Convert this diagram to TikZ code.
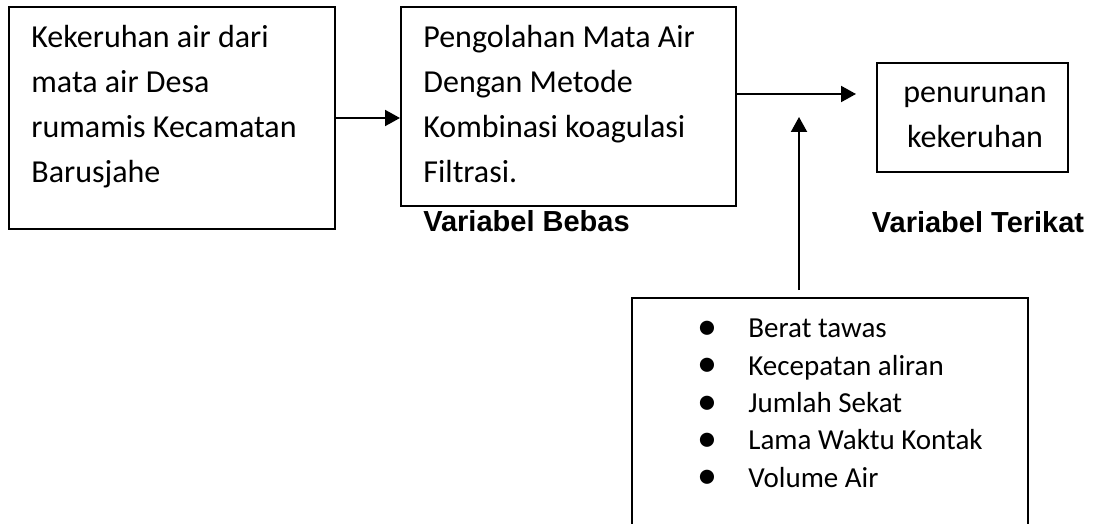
\documentclass[tikz,border=0pt]{standalone}
\usepackage{fontspec}
\setmainfont{Carlito}
\newfontfamily\judulfont{Liberation Sans}
\usepackage{tikz}
\usetikzlibrary{positioning, arrows.meta, calc}

\newcommand{\butir}{\makebox[20pt][c]{\fontsize{20}{20}\selectfont\raisebox{-0.8pt}{\textbullet}}\hspace{10.5pt}}

\begin{document}
\begin{tikzpicture}[x=0.5pt, y=-0.5pt,
    kotak/.style={draw, line width=1pt, inner sep=0pt},
    isi/.style={font=\fontsize{16}{22.5}\selectfont, align=left, inner sep=0pt},
    daftar/.style={font=\fontsize{14.5}{18.65}\selectfont, align=left, inner sep=0pt},
    judul/.style={font=\judulfont\bfseries\fontsize{14.5}{17}\selectfont, inner sep=0pt},
    panah/.style={-{Triangle[length=7.5pt, width=8pt]}, line width=1pt}]
      \useasboundingbox (0, 0) rectangle (1097, 524);

      \node[kotak, minimum width=163pt, minimum height=111pt] (k1) at (172, 118) {};
      \node[isi, anchor=base west] (t1) at (31, 183)
        {Kekeruhan air dari\\mata air Desa\\rumamis Kecamatan\\Barusjahe};

      \node[kotak, minimum width=167.5pt, minimum height=99.5pt] (k2) at (568.5, 106.5) {};
      \node[isi, anchor=base west] (t2) at (423, 183)
        {Pengolahan Mata Air\\Dengan Metode\\Kombinasi koagulasi\\Filtrasi.};

      \node[kotak, minimum width=95.5pt, minimum height=54.5pt] (k3) at (972.5, 117.5) {};
      \node[isi, align=center, anchor=base] (t3) at (975, 148) {penurunan\\kekeruhan};

      \node[kotak, minimum width=198pt, minimum height=131pt] (k4) at (830, 429) {};
      \node[daftar, anchor=base west] (t4) at (687, 487)
        {\butir Berat tawas\\\butir Kecepatan aliran\\\butir Jumlah Sekat\\\butir Lama Waktu Kontak\\\butir Volume Air};

      \node[judul, anchor=base] (bebas) at (526.5, 231) {Variabel Bebas};
      \node[judul, anchor=base] (terikat) at (978, 232) {Variabel Terikat};

      \coordinate (ujung2) at (856, 94);
      \coordinate (ujung3) at (799, 117);
      \draw[panah] (k1.east) -- (k1.east -| k2.west);
      \draw[panah] (k2.east |- ujung2) -- (ujung2);
      \draw[panah, shorten <=3.5pt] (k4.north -| ujung3) -- (ujung3);
\end{tikzpicture}
\end{document}
